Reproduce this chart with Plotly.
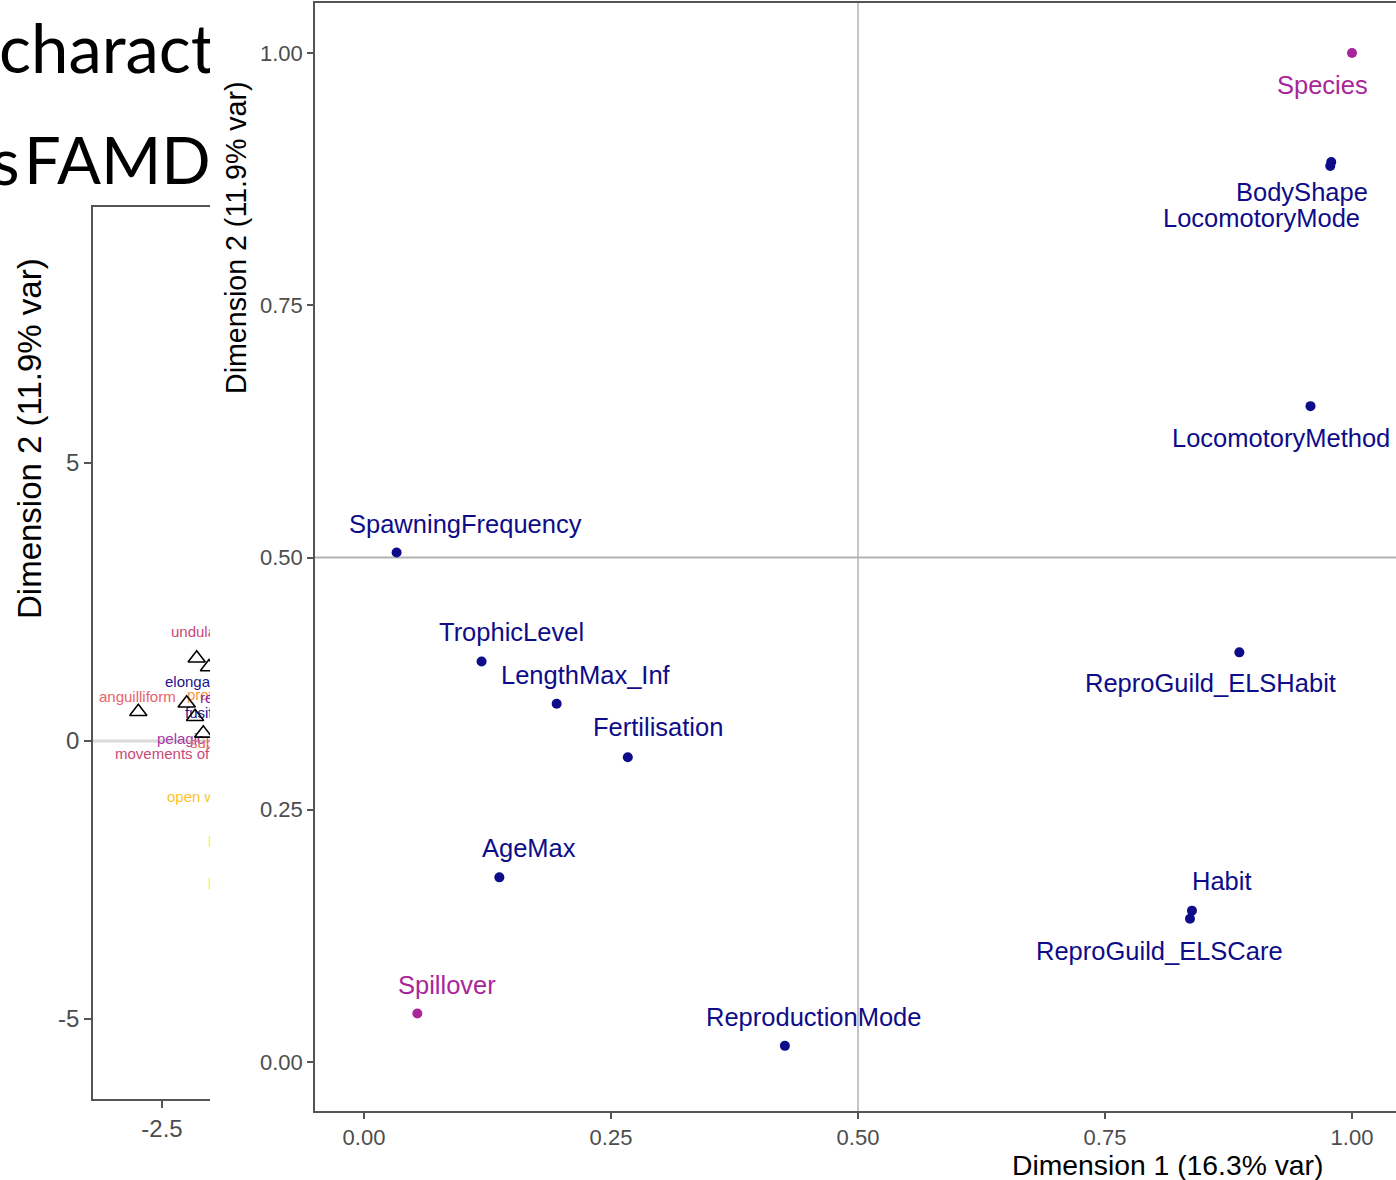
import plotly.graph_objects as go

W, H = 1396, 1180

# ---- FAMD variable coordinates (right-hand panel) ----
var_names = ["Species", "BodyShape", "LocomotoryMode", "LocomotoryMethod",
             "ReproGuild_ELSHabit", "Habit", "ReproGuild_ELSCare",
             "SpawningFrequency", "TrophicLevel", "LengthMax_Inf",
             "Fertilisation", "AgeMax", "Spillover", "ReproductionMode"]
var_dim1 = [1.000, 0.979, 0.978, 0.958, 0.886, 0.838, 0.836,
            0.033, 0.119, 0.195, 0.267, 0.137, 0.054, 0.426]
var_dim2 = [1.000, 0.892, 0.888, 0.650, 0.406, 0.150, 0.142,
            0.505, 0.397, 0.355, 0.302, 0.183, 0.048, 0.016]
var_type = ["supplementary", "active", "active", "active", "active", "active", "active",
            "active", "active", "active", "active", "active", "supplementary", "active"]

x_ticks = [0.0, 0.25, 0.5, 0.75, 1.0]
x_tick_text = ["0.00", "0.25", "0.50", "0.75", "1.00"]
y_ticks = [0.0, 0.25, 0.5, 0.75, 1.0]
y_tick_text = ["0.00", "0.25", "0.50", "0.75", "1.00"]

# ---- individuals / categories map (left-hand panel, partly hidden) ----
ind_dim1 = [-1.876, -1.655, -2.926, -2.056, -1.906, -1.757]
ind_dim2 = [1.487, 1.331, 0.527, 0.678, 0.437, 0.138]
cat_names = ["undulatory", "elongated", "anguilliform", "protrusible", "reduced",
             "fusiform", "pelagic", "substrate", "movements of fins", "open water",
             "littoral", "benthic"]
cat_dim1 = [-2.338, -2.446, -3.633, -2.050, -1.817, -2.086, -2.590, -1.996,
            -3.345, -2.410, -1.673, -1.673]
cat_dim2 = [1.942, 1.043, 0.773, 0.809, 0.755, 0.486, 0.018, -0.054,
            -0.252, -1.025, -1.835, -2.590]
cat_colors = ["#CC4778", "#1A1490", "#E8636A", "#F89540", "#8E1FA0", "#1A1490",
              "#A63AA6", "#E66A63", "#CC4778", "#FDC328", "#F0F921", "#F0F921"]
bg_x_ticks = [-2.5]
bg_y_ticks = [-5, 0, 5]

# ---- slide heading (pieces and their pixel anchors) ----
heading_text = ["characteristics", "s", "FAMD"]
heading_x = [-1, -9, 24]
heading_y = [56, 168, 168]
heading_size = [67, 66, 65]

NAVY = "#0E0C88"
MAGENTA = "#A9259A"
AXIS_GREY = "#555555"
TICK_GREY = "#4D4D4D"
FONT = "Liberation Sans, Arial, sans-serif"


def px_x(p):
    return p / W


def px_y(p):
    return 1 - p / H


fig = go.Figure()

# heading text on a bare, clipped axis measured in pixels
fig.add_trace(go.Scatter(
    x=heading_x, y=heading_y, text=heading_text, mode="text",
    textposition="middle right", cliponaxis=True,
    textfont=dict(family="Lato, Open Sans, sans-serif", size=heading_size, color="#000000"),
    xaxis="x3", yaxis="y3", hoverinfo="skip", showlegend=False))

# left panel: category labels and individuals
fig.add_trace(go.Scatter(
    x=cat_dim1, y=cat_dim2, text=cat_names, mode="text",
    textposition="middle right", cliponaxis=True,
    textfont=dict(family=FONT, size=15, color=cat_colors),
    xaxis="x", yaxis="y", hoverinfo="skip", showlegend=False))
fig.add_trace(go.Scatter(
    x=ind_dim1, y=ind_dim2, mode="markers", cliponaxis=True,
    marker=dict(symbol="triangle-up-open", size=15, color="#000000",
                line=dict(width=1.6, color="#000000")),
    xaxis="x", yaxis="y", hoverinfo="skip", showlegend=False))

# right panel: variable points
point_colors = [MAGENTA if t == "supplementary" else NAVY for t in var_type]
fig.add_trace(go.Scatter(
    x=var_dim1, y=var_dim2, mode="markers", cliponaxis=False,
    marker=dict(size=10, color=point_colors),
    xaxis="x2", yaxis="y2", hoverinfo="text", text=var_names, showlegend=False))

# label offsets (pixels; right, down) for the repelled variable labels
label_offsets = [(-30, 32), (-29, 30), (-69, 52), (-30, 32), (-29, 31), (30, -30),
                 (-30, 32), (69, -28), (30, -29), (29, -29), (30, -30), (30, -29),
                 (30, -29), (29, -29)]

annotations = []
for name, x, y, col, (dx, dy) in zip(var_names, var_dim1, var_dim2, point_colors, label_offsets):
    annotations.append(dict(
        x=x, y=y, xref="x2", yref="y2", text=name, showarrow=False,
        xshift=dx, yshift=-dy, xanchor="center", yanchor="middle",
        font=dict(family=FONT, size=25.5, color=col)))

# axis titles
annotations += [
    dict(x=px_x(1167), y=px_y(1165), xref="paper", yref="paper",
         xanchor="center", yanchor="middle",
         text="Dimension 1 (16.3% var)", showarrow=False,
         font=dict(family=FONT, size=28.3, color="#000000")),
    dict(x=px_x(236), y=px_y(238), xref="paper", yref="paper",
         xanchor="center", yanchor="middle",
         text="Dimension 2 (11.9% var)", showarrow=False, textangle=-90,
         font=dict(family=FONT, size=28.6, color="#000000")),
    dict(x=px_x(29), y=px_y(439), xref="paper", yref="paper",
         xanchor="center", yanchor="middle",
         text="Dimension 2 (11.9% var)", showarrow=False, textangle=-90,
         font=dict(family=FONT, size=33, color="#000000")),
]

shapes = [
    # reference lines of the variable map
    dict(type="line", xref="x2 domain", yref="y2", x0=0, x1=1, y0=0.5, y1=0.5,
         line=dict(color="#B3B3B3", width=2), layer="below"),
    dict(type="line", xref="x2", yref="y2 domain", x0=0.5, x1=0.5, y0=0, y1=1,
         line=dict(color="#B3B3B3", width=1.5), layer="below"),
    # zero line of the individuals map
    dict(type="line", xref="x domain", yref="y", x0=0, x1=1, y0=0, y1=0,
         line=dict(color="#DADADA", width=3), layer="below"),
]

# pixel scales of the panels
bg_unit = 55.6
bg_x0_px, bg_y0_px = 162 - (-2.5) * bg_unit, 741
main_x0_px, main_xs = 364, 988
main_y0_px, main_ys = 1062, 1009

axis_common = dict(showgrid=False, zeroline=False, showline=True,
                   linecolor=AXIS_GREY, linewidth=1.6, ticks="outside",
                   tickcolor=AXIS_GREY, tickwidth=1.6)

fig.update_layout(
    width=W, height=H, margin=dict(l=0, r=0, t=0, b=0),
    paper_bgcolor="white", plot_bgcolor="rgba(0,0,0,0)",
    showlegend=False, annotations=annotations, shapes=shapes,
    xaxis=dict(domain=[px_x(93), px_x(210)],
               range=[(93 - bg_x0_px) / bg_unit, (210 - bg_x0_px) / bg_unit],
               tickvals=bg_x_ticks, ticktext=["-2.5"], ticklen=7, mirror=True,
               tickfont=dict(family=FONT, size=24, color=TICK_GREY),
               anchor="y", **axis_common),
    yaxis=dict(domain=[px_y(1099), px_y(207)],
               range=[(bg_y0_px - 1099) / bg_unit, (bg_y0_px - 207) / bg_unit],
               tickvals=bg_y_ticks, ticktext=["-5", "0", "5"], ticklen=7,
               tickfont=dict(family=FONT, size=24, color=TICK_GREY),
               anchor="x", **axis_common),
    xaxis2=dict(domain=[px_x(315), 1.0],
                range=[(315 - main_x0_px) / main_xs, (W - main_x0_px) / main_xs],
                tickvals=x_ticks, ticktext=x_tick_text, ticklen=6, mirror=True,
                tickfont=dict(family=FONT, size=22, color=TICK_GREY),
                anchor="y2", **axis_common),
    yaxis2=dict(domain=[px_y(1111), px_y(3)],
                range=[(main_y0_px - 1111) / main_ys, (main_y0_px - 3) / main_ys],
                tickvals=y_ticks, ticktext=y_tick_text, ticklen=6,
                tickfont=dict(family=FONT, size=22, color=TICK_GREY),
                anchor="x2", **axis_common),
    xaxis3=dict(domain=[0, px_x(210)], range=[0, 210], visible=False,
                fixedrange=True, anchor="y3"),
    yaxis3=dict(domain=[px_y(200), 1.0], range=[200, 0], visible=False,
                fixedrange=True, anchor="x3"),
)

fig.write_html("out.html")
